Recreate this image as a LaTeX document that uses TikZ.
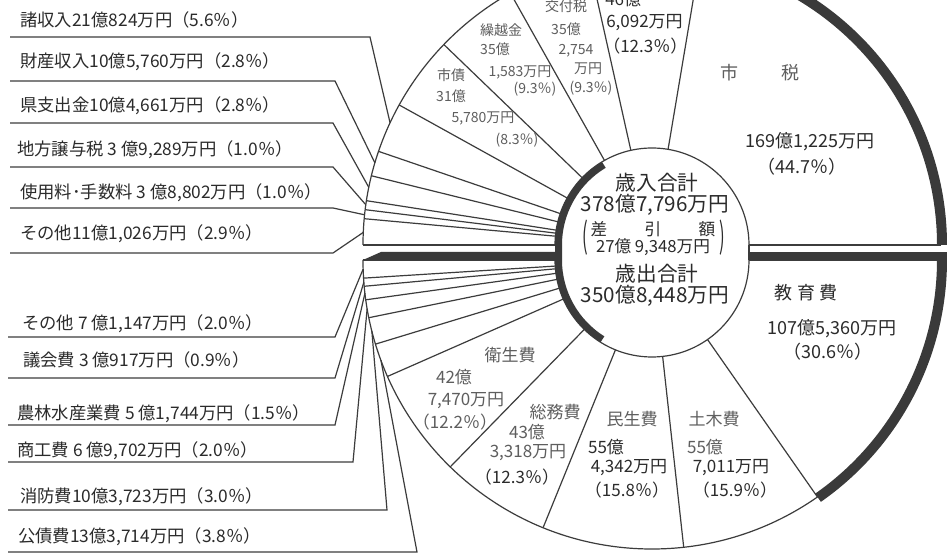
\documentclass[tikz,border=0pt]{standalone}
\usepackage{fontspec}
\setmainfont{Noto Sans CJK JP}
\usetikzlibrary{calc}
\definecolor{ink}{HTML}{2B2B2B}
\definecolor{inkl}{HTML}{5E5E5E}
\definecolor{rule}{HTML}{3C3C3C}
\definecolor{band}{HTML}{3A3A3A}
\begin{document}
\begin{tikzpicture}[x=0.75pt,y=-0.75pt,
  ln/.style={draw=rule,line width=0.9pt},
  lbl/.style={anchor=west,inner sep=0pt,text=ink,font=\fontsize{13}{15}\selectfont},
  sm/.style={inner sep=0pt,text=inkl,font=\fontsize{10.5}{12}\selectfont},
  md/.style={inner sep=0pt,text=ink,font=\fontsize{12.75}{14}\selectfont},
  mdl/.style={md,text=inkl},
  bgt/.style={inner sep=0pt,text=ink,font=\fontsize{13.5}{15}\selectfont},
  ctr/.style={inner sep=0pt,text=ink,font=\fontsize{15.5}{17}\selectfont},
  ctrs/.style={inner sep=0pt,text=ink,font=\fontsize{12.5}{14}\selectfont}]
\useasboundingbox (0,0) rectangle (947,555);
\fill[white] (0,0) rectangle (947,555);
\coordinate (CT) at (652,245);
\coordinate (CB) at (652,260);
\begin{scope}
\clip (0,0) rectangle (947,555);
% ---- upper half (revenue)
\draw[ln] ([shift={(0:289)}]CT) arc[start angle=0,end angle=-180,radius=289];
\draw[ln] ([shift={(0:97)}]CT) arc[start angle=0,end angle=-180,radius=97];
\draw[ln] ([shift={(180:289)}]CT) -- ([shift={(180:97)}]CT);
\draw[ln] ([shift={(0:97)}]CT) -- ([shift={(0:289)}]CT);
\foreach \a in {-80.46,-102.6,-119.34,-136.08,-151.02,-161.1,-166.14,-171.18,-172.98,-174.78}
  \draw[ln] ([shift={(\a:97)}]CT) -- ([shift={(\a:289)}]CT);
% ---- lower half (expenditure)
\draw[ln] ([shift={(0:289)}]CB) arc[start angle=0,end angle=180,radius=289];
\draw[ln] ([shift={(0:97)}]CB) arc[start angle=0,end angle=180,radius=97];
\draw[ln] ([shift={(180:289)}]CB) -- ([shift={(180:97)}]CB);
\draw[ln] ([shift={(0:97)}]CB) -- ([shift={(0:289)}]CB);
\foreach \a in {55.08,83.7,112.14,134.28,156.24,163.08,168.48,172.08,174.78,176.4}
  \draw[ln] ([shift={(\a:97)}]CB) -- ([shift={(\a:289)}]CB);
% inner joins
\draw[ln] ([shift={(0:97)}]CT) -- ([shift={(0:97)}]CB);
% ---- dark bands
\fill[band] (363,260) -- (381,252) -- (556,252) -- (556,260) -- cycle;
\fill[band] (748,252) -- (947,252) -- (947,260) -- (748,260) -- cycle;
\draw[band,line width=7.5pt] ([shift={(0:290)}]CT) arc[start angle=0,end angle=-81,radius=290];
\draw[band,line width=7.5pt] ([shift={(0:290)}]CB) arc[start angle=0,end angle=55.08,radius=290];
\draw[band,line width=5.25pt] ([shift={(-121:93.5)}]CT) arc[start angle=-121,end angle=-180,radius=93.5]
  -- ([shift={(180:93.5)}]CB) arc[start angle=180,end angle=122,radius=93.5];
\end{scope}
% ---- leader end points on the rim
\coordinate (e1) at ([shift={(-155:289)}]CT);
\coordinate (e2) at ([shift={(-163.5:289)}]CT);
\coordinate (e3) at ([shift={(-168.5:289)}]CT);
\coordinate (e4) at ([shift={(-172:289)}]CT);
\coordinate (e5) at ([shift={(-174:289)}]CT);
\coordinate (e6) at ([shift={(-177.5:289)}]CT);
\coordinate (f1) at ([shift={(178.2:289)}]CB);
\coordinate (f2) at ([shift={(175.6:289)}]CB);
\coordinate (f3) at ([shift={(173.4:289)}]CB);
\coordinate (f4) at ([shift={(170.3:289)}]CB);
\coordinate (f5) at ([shift={(165.8:289)}]CB);
\coordinate (f6) at ([shift={(159.7:289)}]CB);
% ---- left labels, revenue
\node[lbl] (r1) at (20,20) {諸収入21億824万円（5.6％）};
\node[lbl] (r2) at (20,62) {財産収入10億5,760万円（2.8％）};
\node[lbl] (r3) at (20,106) {県支出金10億4,661万円（2.8％）};
\node[lbl] (r4) at (17,150) {地方譲与税 3 億9,289万円（1.0％）};
\node[lbl] (r5) at (20,193) {使用料･手数料 3 億8,802万円（1.0％）};
\node[lbl] (r6) at (20,234) {その他11億1,026万円（2.9％）};
\coordinate (r1a) at (10,37);  \coordinate (r1b) at (370,37);
\coordinate (r2a) at (10,81);  \coordinate (r2b) at (335,81);
\coordinate (r3a) at (10,123); \coordinate (r3b) at (333,123);
\coordinate (r4a) at (10,167); \coordinate (r4b) at (333,167);
\coordinate (r5a) at (10,208); \coordinate (r5b) at (333,208);
\coordinate (r6a) at (10,253); \coordinate (r6b) at (333,253);
\draw[ln] (r1a) -- (r1b) -- (e1);
\draw[ln] (r2a) -- (r2b) -- (e2);
\draw[ln] (r3a) -- (r3b) -- (e3);
\draw[ln] (r4a) -- (r4b) -- (e4);
\draw[ln] (r5a) -- (r5b) -- (e5);
\draw[ln] (r6a) -- (r6b) -- (e6);
% ---- left labels, expenditure
\node[lbl] (s1) at (22,324) {その他 7 億1,147万円（2.0％）};
\node[lbl] (s2) at (23,360) {議会費 3 億917万円（0.9％）};
\node[lbl] (s3) at (17,414) {農林水産業費 5 億1,744万円（1.5％）};
\node[lbl] (s4) at (17,451) {商工費 6 億9,702万円（2.0％）};
\node[lbl] (s5) at (20,497) {消防費10億3,723万円（3.0％）};
\node[lbl] (s6) at (18,537) {公債費13億3,714万円（3.8％）};
\coordinate (s1a) at (8,337); \coordinate (s1b) at (335,337);
\coordinate (s2a) at (8,378); \coordinate (s2b) at (335,378);
\coordinate (s3a) at (8,425); \coordinate (s3b) at (335,425);
\coordinate (s4a) at (8,462); \coordinate (s4b) at (353,462);
\coordinate (s5a) at (8,510); \coordinate (s5b) at (387,510);
\coordinate (s6a) at (8,552); \coordinate (s6b) at (417,552);
\draw[ln] (s1a) -- (s1b) -- (f1);
\draw[ln] (s2a) -- (s2b) -- (f2);
\draw[ln] (s3a) -- (s3b) -- (f3);
\draw[ln] (s4a) -- (s4b) -- (f4);
\draw[ln] (s5a) -- (s5b) -- (f5);
\draw[ln] (s6a) -- (s6b) -- (f6);
% ---- revenue slice texts
\node[md,anchor=west] (k1) at (605,-1) {46億};
\node[md,anchor=west] (k2) at (606,23) {6,092万円};
\node[md,anchor=west] (k3) at (603,46) {（12.3％）};
\node[sm] (k4) at (566,6) {交付税};
\node[sm] (k5) at (566,29) {35億};
\node[sm] (k6) at (576,51) {2,754};
\node[sm] (k7) at (588,69) {万円};
\node[sm] (k8) at (591,88) {(9.3％)};
\node[sm] (k9) at (501,30) {繰越金};
\node[sm] (k10) at (495,49) {35億};
\node[sm] (k11) at (520,72) {1,583万円};
\node[sm] (k12) at (535,89) {(9.3％)};
\node[sm] (k13) at (451,75) {市債};
\node[sm] (k14) at (451,96) {31億};
\node[sm] (k15) at (483,118) {5,780万円};
\node[sm] (k16) at (517,140) {(8.3％)};
\node[bgt,text=inkl] (k17) at (760,73) {市\hspace{33pt}税};
\node[bgt] (k18) at (810,142) {169億1,225万円};
\node[bgt] (k19) at (802,167) {（44.7％）};
% ---- centre
\node[ctr] (t1) at (657,183) {歳入合計};
\node[ctr] (t2) at (655,205) {378億7,796万円};
\node[ctrs] (t3) at (653,229) {差\hspace{28pt}引\hspace{28pt}額};
\node[ctrs] (t4) at (653,247) {27億 9,348万円};
\node[ctrs] (t5) at (585,238) {\scalebox{1}[2.1]{(}};
\node[ctrs] (t6) at (722,238) {\scalebox{1}[2.1]{)}};
\node[ctr] (t7) at (657,274) {歳出合計};
\node[ctr] (t8) at (655,296) {350億8,448万円};
% ---- expenditure slice texts
\node[bgt] (x1) at (806,293) {教 育 費};
\node[bgt] (x2) at (832,329) {107億5,360万円};
\node[bgt] (x3) at (828,352) {（30.6％）};
\node[mdl] (x4) at (714,419) {土木費};
\node[mdl] (x5) at (705,447) {55億};
\node[md] (x6) at (731,468) {7,011万円};
\node[md] (x7) at (735,490) {（15.9％）};
\node[mdl] (x8) at (632,419) {民生費};
\node[md] (x9) at (606,447) {55億};
\node[md] (x10) at (629,468) {4,342万円};
\node[md] (x11) at (627,490) {（15.8％）};
\node[mdl] (x12) at (555,412) {総務費};
\node[mdl] (x13) at (527,432) {43億};
\node[mdl] (x14) at (528,453) {3,318万円};
\node[md] (x15) at (517,477) {（12.3％）};
\node[mdl] (x16) at (510,355) {衛生費};
\node[mdl] (x17) at (454,377) {42億};
\node[mdl] (x18) at (466,401) {7,470万円};
\node[mdl] (x19) at (455,422) {（12.2％）};
\end{tikzpicture}
\end{document}
